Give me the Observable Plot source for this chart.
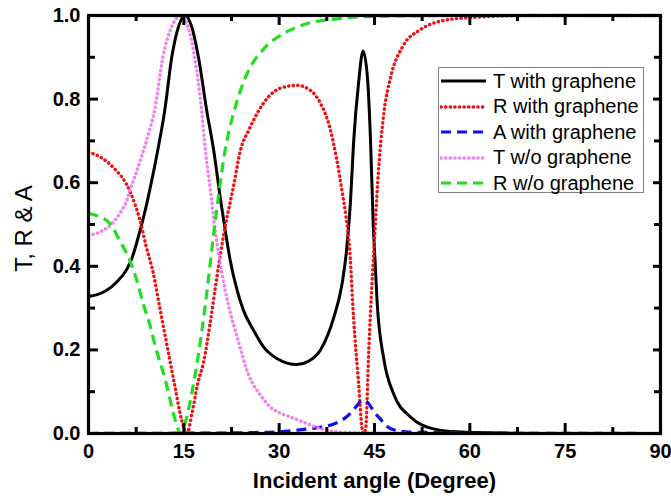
<!DOCTYPE html>
<html><head><meta charset="utf-8">
<script src="https://cdn.jsdelivr.net/npm/d3@7"></script>
<script src="https://cdn.jsdelivr.net/npm/@observablehq/plot@0.6"></script>
<style>
body{margin:0;background:#fff;font-family:Arial,"Liberation Sans",sans-serif}
#wrap{position:relative;width:671px;height:496px}
#legend{position:absolute;left:438px;top:67px;width:206px;height:126px;border:1px solid #808080;background:#fff;box-sizing:border-box}
.row{position:absolute;left:0;height:26px;display:flex;align-items:center}
.row span{font-size:20px;margin-left:6px;white-space:nowrap;color:#000}
</style></head><body><div id="wrap"></div>
<script>
// T with graphene
const tgX = [0,1.5,2.8,4.4,6,6.8,8.1,9.1,9.6,10.8,12,13.1,14,15.2,16.2,17.3,18.6,19.7,20.8,21.6,22.3,23.4,24.4,26,27.6,29.7,32.8,34.5,36.5,38.6,39.9,40.6,41.2,41.7,42.5,43.2,43.9,44.4,44.8,45.1,45.4,46.5,48,50.7,54.3,58,65,75,90];
const tgY = [0.328,0.333,0.342,0.362,0.392,0.418,0.485,0.545,0.58,0.67,0.773,0.9,0.965,1.0,0.975,0.9,0.773,0.677,0.557,0.478,0.414,0.342,0.294,0.246,0.206,0.179,0.165,0.172,0.2,0.278,0.358,0.438,0.55,0.694,0.84,0.915,0.85,0.69,0.5,0.41,0.318,0.175,0.095,0.039,0.011,0.004,0.001,0,0];
// R with graphene
const rgX = [0,2,4,6.5,8.1,9.1,10.2,11.2,12.3,13.5,14.7,15.5,16.3,17.2,18.1,19.2,20.2,21.3,22.9,23.9,25.2,28.3,30,32.8,35,36.5,38,39,40,40.5,41.1,41.7,42.5,43.06,43.3,43.6,44.1,44.6,44.9,45.5,46.5,47.5,49.6,52,55,60,70,90];
const rgY = [0.673,0.66,0.635,0.58,0.51,0.446,0.383,0.302,0.215,0.12,0.03,0.0,0.05,0.12,0.17,0.27,0.374,0.478,0.598,0.677,0.725,0.805,0.825,0.833,0.82,0.79,0.73,0.66,0.57,0.52,0.438,0.278,0.119,0.01,0.0,0.01,0.2,0.358,0.438,0.6,0.77,0.85,0.93,0.964,0.985,0.995,1.0,1.0];
// A with graphene
const agX = [0,10,20,25,30,33.9,36,38.6,40,41.2,42,42.7,43.3,43.9,44.8,45.9,47,48,50,52,55,60,90];
const agY = [0,0.0005,0.001,0.002,0.004,0.01,0.014,0.023,0.033,0.048,0.062,0.075,0.08,0.075,0.055,0.035,0.017,0.009,0.004,0.003,0.002,0.001,0];
// T w/o graphene
const twX = [0,1.8,3.4,4.9,6,6.5,8.4,9.5,10.4,11.7,13,14.6,15.6,16.7,17.8,18.4,19.2,20,21,22.1,23.4,25.2,27.3,28.6,30,32,34,36,37.6,40,45,60,90];
const twY = [0.474,0.482,0.498,0.526,0.557,0.58,0.665,0.72,0.773,0.9,0.97,1.0,0.975,0.9,0.773,0.677,0.58,0.478,0.383,0.302,0.23,0.14,0.087,0.063,0.05,0.038,0.026,0.014,0.007,0.003,0.001,0,0];
// R w/o graphene
const rwX = [0,1.5,3.4,4.9,6.5,7.6,8.6,9.6,10.4,12.1,13.7,14.5,15.3,16.3,17.1,18.4,19.7,20.5,21.3,23.1,24.7,27.8,30.5,33.8,39.1,45,60,90];
const rwY = [0.527,0.52,0.502,0.462,0.414,0.366,0.311,0.263,0.215,0.127,0.03,0.0,0.03,0.1,0.17,0.31,0.478,0.573,0.66,0.781,0.852,0.924,0.955,0.978,0.992,0.998,1.0,1.0];

const xMajor = [0,15,30,45,60,75,90];
const xMinor = [7.5,22.5,37.5,52.5,67.5,82.5];
const yMajor = [0,0.2,0.4,0.6,0.8,1.0];
const yMinor = [0.1,0.3,0.5,0.7,0.9];
const xTitle = "Incident angle (Degree)";
const yTitle = "T, R & A";

const zip = (xs, ys) => xs.map((x, i) => ({x, y: ys[i]}));

const series = [
  {name: "T with graphene", data: zip(tgX, tgY), stroke: "#000000", strokeWidth: 3, dash: null, cap: "butt"},
  {name: "R with graphene", data: zip(rgX, rgY), stroke: "#ee1111", strokeWidth: 3.4, dash: "0.3 4.3", cap: "round"},
  {name: "A with graphene", data: zip(agX, agY), stroke: "#1010ee", strokeWidth: 3.2, dash: "10 6", cap: "butt"},
  {name: "T w/o graphene", data: zip(twX, twY), stroke: "#ee82ee", strokeWidth: 3.4, dash: "0.3 4.3", cap: "round"},
  {name: "R w/o graphene", data: zip(rwX, rwY), stroke: "#22dd22", strokeWidth: 3.2, dash: "10 6", cap: "butt"}
];

const W = 671, H = 496, ML = 88, MR = 11, MT = 15, MB = 63;
const xDomain = [0, 90], yDomain = [0, 1];
// tick lengths in pixels, turned into data units for rule marks
const kx = (xDomain[1] - xDomain[0]) / (W - ML - MR);
const ky = (yDomain[1] - yDomain[0]) / (H - MT - MB);
const tickStyle = {stroke: "#000", strokeWidth: 3};

const chart = Plot.plot({
  width: W, height: H,
  marginLeft: ML, marginRight: MR, marginTop: MT, marginBottom: MB,
  x: {domain: xDomain, label: null},
  y: {domain: yDomain, label: null},
  style: "font-family: Arial, 'Liberation Sans', sans-serif; background: white; color: black;",
  marks: [
    ...series.map(s => Plot.line(s.data, {x: "x", y: "y", stroke: s.stroke, strokeWidth: s.strokeWidth, strokeDasharray: s.dash, strokeLinecap: s.cap, curve: "monotone-x"})),
    Plot.ruleX(xMajor, {x: d => d, y1: yDomain[0], y2: yDomain[0] + 10 * ky, ...tickStyle}),
    Plot.ruleX(xMajor, {x: d => d, y1: yDomain[1] - 10 * ky, y2: yDomain[1], ...tickStyle}),
    Plot.ruleX(xMinor, {x: d => d, y1: yDomain[0], y2: yDomain[0] + 6 * ky, ...tickStyle}),
    Plot.ruleX(xMinor, {x: d => d, y1: yDomain[1] - 6 * ky, y2: yDomain[1], ...tickStyle}),
    Plot.ruleY(yMajor, {y: d => d, x1: xDomain[0], x2: xDomain[0] + 10 * kx, ...tickStyle}),
    Plot.ruleY(yMajor, {y: d => d, x1: xDomain[1] - 7 * kx, x2: xDomain[1], ...tickStyle}),
    Plot.ruleY(yMinor, {y: d => d, x1: xDomain[0], x2: xDomain[0] + 7 * kx, ...tickStyle}),
    Plot.ruleY(yMinor, {y: d => d, x1: xDomain[1] - 6 * kx, x2: xDomain[1], ...tickStyle}),
    Plot.frame({stroke: "#000", strokeWidth: 3.2}),
    Plot.axisX({anchor: "bottom", ticks: xMajor, tickSize: 0, tickPadding: 10, fontSize: 20, fontWeight: "bold", label: null}),
    Plot.axisY({anchor: "left", ticks: yMajor, tickSize: 0, tickPadding: 8, fontSize: 20, fontWeight: "bold", tickFormat: d3.format(".1f"), label: null}),
    Plot.text([xTitle], {text: d => d, frameAnchor: "bottom", dy: 47, fontSize: 22, fontWeight: "bold", lineAnchor: "middle", textAnchor: "middle"}),
    Plot.text([yTitle], {text: d => d, frameAnchor: "left", dx: -64, dy: 4, rotate: -90, fontSize: 24, lineAnchor: "middle", textAnchor: "middle"})
  ]
});

const wrap = document.getElementById("wrap");
wrap.appendChild(chart);

const legend = document.createElement("div");
legend.id = "legend";
series.forEach((s, i) => {
  const row = document.createElement("div");
  row.className = "row";
  row.style.top = (i * 25.5) + "px";
  const svg = d3.create("svg").attr("width", 47).attr("height", 26).style("display", "block").style("margin-left", "1px");
  svg.append("line").attr("x1", 1).attr("x2", 46).attr("y1", 13).attr("y2", 13)
    .attr("stroke", s.stroke).attr("stroke-width", s.strokeWidth)
    .attr("stroke-dasharray", s.dash).attr("stroke-linecap", s.cap);
  row.appendChild(svg.node());
  const span = document.createElement("span");
  span.textContent = s.name;
  row.appendChild(span);
  legend.appendChild(row);
});
wrap.appendChild(legend);
</script></body></html>
